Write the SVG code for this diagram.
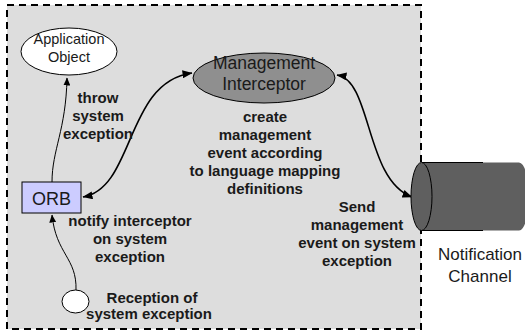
<svg xmlns="http://www.w3.org/2000/svg" width="525" height="334" viewBox="0 0 525 334">
  <style>
    .lbl { font-family: "Liberation Sans", Arial, sans-serif; font-size: 15px; font-weight: bold; fill: #1a1a1a; text-anchor: middle; }
    .name { font-family: "Liberation Sans", Arial, sans-serif; fill: #1a1a1a; text-anchor: middle; }
    .conn { fill: none; stroke: #000; }
  </style>
  <defs>
    <marker id="arrow" viewBox="0 0 10 8" refX="9.5" refY="4" markerWidth="10" markerHeight="8" markerUnits="userSpaceOnUse" orient="auto-start-reverse">
      <path d="M0,0 L10,4 L0,8 z" fill="#000"/>
    </marker>
    <marker id="arrowSmall" viewBox="0 0 8 7" refX="7.5" refY="3.5" markerWidth="8" markerHeight="7" markerUnits="userSpaceOnUse" orient="auto">
      <path d="M0,0 L8,3.5 L0,7 z" fill="#000"/>
    </marker>
  </defs>

  <rect width="525" height="334" fill="#fff"/>

  <!-- boundary of the ORB domain -->
  <rect id="boundary" x="7" y="5" width="414" height="324" fill="#dddddd" stroke="#000" stroke-width="2" stroke-dasharray="7,5"/>

  <g id="connectors">
    <path class="conn" stroke-width="1" d="M52,182 C52,150 66,130 67,78" marker-end="url(#arrowSmall)"/>
    <path class="conn" stroke-width="1" d="M76,290 C77,258 56,254 52,215" marker-end="url(#arrowSmall)"/>
    <path class="conn" stroke-width="1.6" d="M83,197 C135,188 125,82 192,73" marker-start="url(#arrow)" marker-end="url(#arrow)"/>
    <path class="conn" stroke-width="1.6" d="M337,75 C372,80 365,180 412,197" marker-start="url(#arrow)" marker-end="url(#arrow)"/>
  </g>

  <g id="application-object">
    <ellipse cx="69" cy="51.5" rx="48" ry="23.5" fill="#fff" stroke="#000" stroke-width="1"/>
    <text class="name" x="69" y="44" font-size="14.5">Application</text>
    <text class="name" x="69" y="62" font-size="14.5">Object</text>
  </g>

  <g id="management-interceptor">
    <ellipse cx="264" cy="78" rx="71" ry="25" fill="#8f8f8f" stroke="#000" stroke-width="1"/>
    <text class="name" x="264" y="69" font-size="17.5">Management</text>
    <text class="name" x="264" y="90" font-size="17.5">Interceptor</text>
  </g>

  <g id="orb">
    <rect x="22" y="182" width="59" height="31" fill="#ccccff" stroke="#000" stroke-width="1"/>
    <text class="name" x="51.5" y="205" font-size="18">ORB</text>
  </g>

  <g id="reception">
    <ellipse cx="75.5" cy="301.5" rx="13.5" ry="11.5" fill="#fff" stroke="#000" stroke-width="1"/>
  </g>

  <g id="notification-channel">
    <path d="M422,162.5 H519 A10,34 0 0 1 519,230.5 H422 Z" fill="#5f5f5f"/>
    <path d="M422,162.5 H483 M422,230.5 H483" stroke="#000" stroke-width="1" fill="none"/>
    <ellipse cx="421.5" cy="196.5" rx="10.5" ry="34" fill="#5f5f5f" stroke="#000" stroke-width="1"/>
    <text class="name" x="480" y="260" font-size="17">Notification</text>
    <text class="name" x="480" y="282" font-size="17">Channel</text>
  </g>

  <!-- connector labels -->
  <g id="labels">
    <text class="lbl" x="98" y="103">throw</text>
    <text class="lbl" x="98" y="121">system</text>
    <text class="lbl" x="98" y="139">exception</text>

    <text class="lbl" x="265" y="122">create</text>
    <text class="lbl" x="265" y="140">management</text>
    <text class="lbl" x="265" y="158">event according</text>
    <text class="lbl" x="265" y="176">to language mapping</text>
    <text class="lbl" x="265" y="194">definitions</text>

    <text class="lbl" x="130" y="226">notify interceptor</text>
    <text class="lbl" x="130" y="244">on system</text>
    <text class="lbl" x="130" y="262">exception</text>

    <text class="lbl" x="357" y="212">Send</text>
    <text class="lbl" x="357" y="230">management</text>
    <text class="lbl" x="357" y="248">event on system</text>
    <text class="lbl" x="357" y="266">exception</text>

    <text class="lbl" x="152" y="303">Reception of</text>
    <text class="lbl" x="149" y="319">system exception</text>
  </g>
</svg>
